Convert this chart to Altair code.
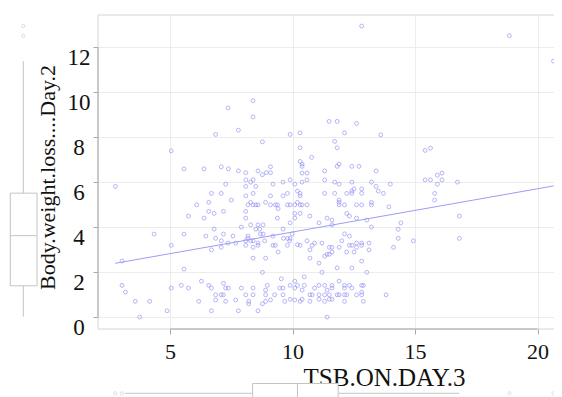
import altair as alt
import pandas as pd

# TSB.ON.DAY.3 (x) and Body.weight.loss....Day.2 (y)
tsb = [
    8.39, 7.37, 8.39, 7.79, 6.86, 9.90, 8.77, 5.05, 5.57, 6.39,
    7.09, 7.38, 7.79, 8.09, 8.59, 8.77, 8.93, 9.10, 9.10, 2.77,
    8.09, 8.39, 8.29, 7.27, 8.09, 8.50, 9.20, 9.61, 9.90, 10.09,
    6.69, 7.09, 8.09, 8.39, 9.10, 9.61, 9.79, 7.50, 6.09, 6.58,
    8.29, 8.18, 8.39, 8.50, 8.59, 8.90, 9.10, 9.30, 9.38, 9.41,
    9.79, 9.90, 10.09, 6.58, 6.80, 7.18, 8.09, 10.09, 5.75, 6.39,
    8.09, 9.38, 10.09, 9.90, 7.91, 8.29, 8.59, 8.80, 6.80, 8.50,
    8.66, 9.61, 4.35, 5.57, 6.46, 7.18, 7.57, 8.18, 8.69, 8.80,
    9.20, 9.63, 9.79, 9.90, 9.99, 6.86, 7.09, 7.37, 7.68, 8.09,
    8.18, 8.29, 8.39, 8.59, 8.86, 9.88, 5.05, 7.09, 8.09, 8.39,
    8.59, 9.20, 9.30, 9.79, 6.69, 9.41, 8.39, 8.90, 3.04, 5.57,
    8.77, 3.04, 3.18, 5.05, 5.46, 5.75, 6.28, 6.58, 6.69, 7.18,
    7.27, 7.38, 7.91, 8.39, 8.97, 9.54, 9.61, 9.90, 10.09, 10.09,
    6.86, 7.09, 7.18, 8.09, 8.39, 8.90, 8.90, 9.27, 9.48, 9.61,
    3.58, 4.17, 6.17, 6.86, 7.27, 7.68, 8.21, 8.21, 8.77, 8.90,
    9.10, 9.68, 9.90, 10.09, 4.88, 6.69, 7.79, 8.59, 3.76,
    11.49, 11.82, 12.61, 10.31, 12.12, 13.60, 11.72, 10.31, 11.82, 15.41,
    15.63, 10.78, 10.31, 10.39, 10.39, 11.82, 11.90, 12.42, 12.71, 10.39,
    10.59, 11.31, 13.41, 15.91, 16.10, 10.39, 10.59, 11.31, 11.72, 11.90,
    12.42, 13.22, 13.41, 13.99, 15.41, 15.63, 16.10, 15.91, 16.73, 10.20,
    10.31, 10.31, 11.31, 11.72, 12.21, 12.42, 12.51, 12.42, 12.82, 12.82,
    13.50, 13.71, 15.80, 15.80, 10.20, 10.31, 10.39, 10.59, 11.90, 11.90,
    11.90, 12.12, 12.61, 12.82, 13.22, 13.22, 13.93, 10.31, 10.71, 11.41,
    11.61, 11.61, 12.21, 12.32, 12.61, 13.03, 11.08, 13.22, 14.42, 14.31,
    16.81, 12.12, 12.32, 14.31, 16.81, 14.93, 10.59, 10.20, 10.31, 10.80,
    10.90, 10.71, 11.20, 11.50, 11.61, 11.90, 12.01, 12.32, 12.42, 12.61,
    12.61, 12.82, 12.82, 13.12, 13.12, 14.12, 11.61, 12.21, 12.51, 11.31,
    11.41, 11.50, 10.71, 12.82, 11.08, 11.82, 12.42, 11.20, 13.03, 10.48,
    11.90, 10.20, 10.48, 11.08, 11.31, 11.61, 12.12, 12.32, 12.82, 12.89,
    10.39, 10.90, 11.41, 11.61, 12.12, 12.42, 12.82, 10.71, 10.80, 11.08,
    11.31, 11.50, 11.82, 11.90, 12.12, 12.21, 12.61, 12.82, 13.82, 10.31,
    10.39, 10.71, 11.08, 11.31, 11.50, 11.61, 12.12, 12.89, 11.41,
    12.82, 18.85, 20.65,
]
bwl = [
    9.63, 9.31, 8.91, 8.32, 8.13, 8.13, 7.80, 7.40, 6.60, 6.60,
    6.69, 6.60, 6.51, 6.43, 6.51, 6.34, 6.43, 6.43, 6.69, 5.82,
    6.11, 6.11, 6.01, 5.92, 5.82, 5.82, 5.92, 6.01, 6.11, 5.92,
    5.51, 5.51, 5.40, 5.51, 5.40, 5.40, 5.51, 5.21, 5.00, 5.11,
    5.11, 5.00, 5.00, 5.00, 5.00, 5.11, 5.00, 5.00, 5.00, 4.83,
    5.00, 5.00, 5.00, 4.71, 4.62, 4.71, 4.71, 4.62, 4.50, 4.41,
    4.41, 4.41, 4.41, 4.20, 4.01, 4.11, 4.11, 4.11, 3.92, 3.92,
    3.92, 3.92, 3.70, 3.70, 3.61, 3.70, 3.61, 3.61, 3.70, 3.70,
    3.61, 3.51, 3.51, 3.51, 3.71, 3.51, 3.40, 3.30, 3.30, 3.40,
    3.51, 3.40, 3.40, 3.30, 3.40, 3.40, 3.20, 3.11, 3.20, 3.11,
    3.20, 3.20, 3.20, 3.20, 3.00, 2.90, 2.63, 2.63, 2.50, 2.14,
    2.00, 1.42, 1.12, 1.30, 1.42, 1.30, 1.61, 1.42, 1.30, 1.51,
    1.30, 1.30, 1.30, 1.30, 1.42, 1.71, 1.30, 1.42, 1.61, 1.30,
    1.00, 1.00, 1.00, 1.00, 1.00, 1.21, 1.00, 1.00, 1.30, 1.00,
    0.71, 0.71, 0.71, 0.77, 0.71, 0.77, 0.71, 0.60, 0.60, 0.71,
    0.77, 0.71, 0.80, 0.77, 0.29, 0.29, 0.29, 0.29, 0.01,
    8.71, 8.71, 8.62, 8.20, 8.20, 8.11, 7.82, 7.54, 7.54, 7.42,
    7.52, 7.11, 6.93, 6.81, 6.71, 6.71, 6.81, 6.71, 6.71, 6.41,
    6.41, 6.51, 6.51, 6.32, 6.41, 6.01, 6.11, 6.11, 6.01, 5.92,
    6.01, 6.01, 5.82, 5.92, 6.11, 6.11, 6.11, 5.92, 6.01, 5.61,
    5.51, 5.40, 5.51, 5.51, 5.51, 5.61, 5.71, 5.51, 5.71, 5.51,
    5.61, 5.51, 5.51, 5.21, 5.11, 5.00, 5.00, 5.00, 5.21, 5.11,
    5.00, 5.00, 5.00, 5.00, 5.11, 5.00, 4.91, 4.62, 4.50, 4.41,
    4.32, 4.11, 4.62, 4.50, 4.41, 4.32, 4.20, 4.01, 4.20, 3.91,
    4.50, 3.71, 3.61, 3.51, 3.51, 3.40, 3.40, 3.23, 3.20, 3.20,
    3.30, 3.00, 3.30, 3.11, 3.11, 3.11, 3.40, 3.20, 3.20, 3.11,
    3.30, 3.30, 3.20, 3.30, 3.00, 3.11, 2.90, 2.90, 2.90, 2.72,
    2.80, 2.80, 2.63, 2.50, 2.41, 2.20, 2.20, 2.00, 2.00, 1.80,
    1.61, 1.42, 1.42, 1.42, 1.42, 1.42, 1.42, 1.42, 1.42, 1.42,
    1.21, 1.30, 1.21, 1.30, 1.30, 1.30, 1.12, 1.00, 1.00, 1.00,
    1.00, 1.00, 1.00, 1.00, 1.00, 1.00, 1.00, 1.00, 1.00, 0.71,
    0.80, 0.71, 0.80, 0.71, 0.80, 0.80, 0.71, 0.71, 0.01,
    12.95, 12.52, 11.39,
]

# least-squares line as drawn (end points)
fit_x = [2.76, 20.65]
fit_y = [2.40, 5.84]

# marginal boxplot statistics
y_box = {"low": 0.03, "q1": 1.40, "median": 3.63, "q3": 5.52, "high": 11.39}
y_outliers = [12.52, 12.95]
x_box = {"low": 3.16, "q1": 8.37, "median": 10.20, "q3": 11.86, "high": 16.80}
x_outliers = [2.76, 3.04, 18.85, 20.65]

x_ticks = [5, 10, 15, 20]
y_ticks = [0, 2, 4, 6, 8, 10, 12]

W, H = 456, 314
SERIF = "Liberation Serif"
PT = "#8a8af4"
GREY = "#c4c4c4"
FRAME = "#d4d4d4"

xs = alt.Scale(domain=[2.06, 20.67], nice=False, zero=False)
ys = alt.Scale(domain=[-0.52, 13.44], nice=False, zero=False)

df = pd.DataFrame({"TSB": tsb, "BWL": bwl})

x_axis = alt.Axis(values=x_ticks, title="TSB.ON.DAY.3", grid=True,
                  labelPadding=7, labelFontSize=22, titleX=286, titleY=56,
                  titleFontSize=25,
                  titleBaseline="alphabetic", titleAlign="center")
y_axis = alt.Axis(values=y_ticks, title="Body.weight.loss....Day.2", grid=True,
                  labelAlign="center", labelBaseline="middle", labelPadding=14.5,
                  labelOffset=10, titleX=-44, titleY=162, titleAngle=270,
                  titleFontSize=22,
                  titleBaseline="alphabetic", titleAlign="center")


def X(field):
    return alt.X(field, type="quantitative", scale=xs, axis=x_axis)


def Y(field):
    return alt.Y(field, type="quantitative", scale=ys, axis=y_axis)


points = alt.Chart(df).mark_point(shape="circle", filled=False, size=15,
                                  strokeWidth=0.9, color=PT).encode(
    x=X("TSB"), y=Y("BWL"))

fit = alt.Chart(pd.DataFrame({"fx": fit_x, "fy": fit_y})).mark_line(
    color="#9c9cf6", strokeWidth=1).encode(x=X("fx"), y=Y("fy"))

# plot frame (top, left, bottom; the right side lies outside the picture)
frame_top = alt.Chart().mark_rule(color=FRAME).encode(
    x=alt.value(0), x2=alt.value(W + 20), y=alt.value(0))
frame_bottom = alt.Chart().mark_rule(color=FRAME).encode(
    x=alt.value(0), x2=alt.value(W + 20), y=alt.value(H))
frame_left = alt.Chart().mark_rule(color=FRAME).encode(
    x=alt.value(0), y=alt.value(0), y2=alt.value(H))

# axis lines spanning first to last tick
axis_df = pd.DataFrame({"x0": [x_ticks[0]], "x1": [x_ticks[-1]],
                        "y0": [y_ticks[0]], "y1": [y_ticks[-1]]})
xline = alt.Chart(axis_df).mark_rule(color="#a8a8a8").encode(
    x=X("x0"), x2="x1:Q", y=alt.value(H))
yline = alt.Chart(axis_df).mark_rule(color="#a8a8a8").encode(
    y=Y("y0"), y2="y1:Q", x=alt.value(0))

# left marginal boxplot
ydf = pd.DataFrame([y_box])
yw = alt.Chart(ydf).mark_rule(color=GREY).encode(
    y=Y("low"), y2="high:Q", x=alt.value(-74.7))
yb = alt.Chart(ydf).mark_rect(fill="white", stroke=GREY, strokeWidth=1).encode(
    y=Y("q1"), y2="q3:Q", x=alt.value(-87.7), x2=alt.value(-61))
ym = alt.Chart(ydf).mark_rule(color=GREY).encode(
    y=Y("median"), x=alt.value(-87.7), x2=alt.value(-61))
yo = alt.Chart(pd.DataFrame({"o": y_outliers})).mark_point(
    shape="circle", filled=False, size=10, strokeWidth=0.8, color=GREY).encode(
    y=Y("o"), x=alt.value(-74.7))

# bottom marginal boxplot
xdf = pd.DataFrame([x_box])
xw = alt.Chart(xdf).mark_rule(color=GREY).encode(
    x=X("low"), x2="high:Q", y=alt.value(378.3))
xb = alt.Chart(xdf).mark_rect(fill="white", stroke=GREY, strokeWidth=1).encode(
    x=X("q1"), x2="q3:Q", y=alt.value(368.5), y2=alt.value(389))
xm = alt.Chart(xdf).mark_rule(color=GREY).encode(
    x=X("median"), y=alt.value(368.5), y2=alt.value(389))
xo = alt.Chart(pd.DataFrame({"o": x_outliers})).mark_point(
    shape="circle", filled=False, size=10, strokeWidth=0.8, color=GREY).encode(
    x=X("o"), y=alt.value(378.3))

chart = alt.layer(
    frame_top, frame_bottom, frame_left, points, fit, xline, yline,
    yw, yb, ym, yo, xw, xb, xm, xo,
).properties(
    width=W, height=H,
    autosize=alt.AutoSizeParams(type="none"),
    padding={"left": 90, "top": 7, "right": 0, "bottom": 85},
    background="white",
).configure_view(
    stroke="transparent", strokeWidth=0
).configure_axis(
    domain=False, tickSize=5, tickColor="#a8a8a8", gridColor="#ececec",
    labelFont=SERIF, labelFontSize=23, labelColor="#111111",
    titleFont=SERIF, titleFontWeight="normal",
    titleColor="#111111", labelFlush=False,
)

chart.save("out.html", embed_options={"renderer": "svg", "actions": False})
